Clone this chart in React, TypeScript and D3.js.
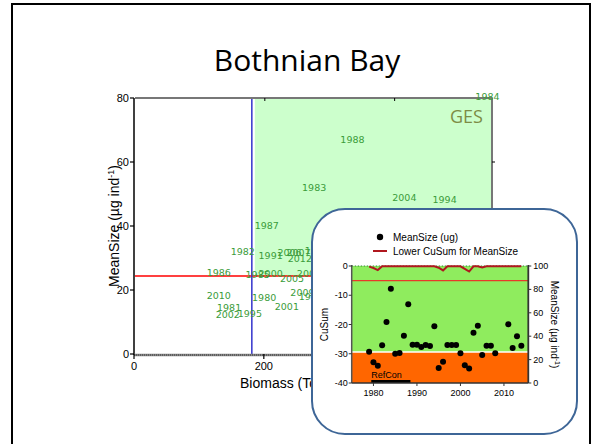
import React from "react";
import * as d3 from "d3";

// ---- Main chart data (labels placed at biomass / mean size) ----
const mainYears = ["1984", "1988", "1983", "2004", "1994", "1987", "1982", "1991", "2006", "2007", "2012", "1997", "1986", "1985", "2000", "2008", "2005", "2009", "1996", "2010", "1980", "2001", "1981", "2002", "1995"];
const mainBiomass = [543, 335, 276, 415, 477, 203, 166, 209, 238, 252, 254, 280, 129, 189, 209, 268, 242, 258, 271, 129, 199, 234, 145, 143, 177];
const mainSize = [80.6, 67.3, 52.1, 49.0, 48.4, 40.4, 32.2, 30.8, 32.0, 32.0, 29.9, 32.5, 25.6, 25.0, 25.4, 25.4, 23.9, 19.5, 18.2, 18.4, 17.7, 15.1, 14.8, 12.5, 12.8];
const mainXTicks = [0, 200, 400];
const mainYTicks = [0, 20, 40, 60, 80];
const biomassThreshold = 180;
const sizeThreshold = 24.4;

// ---- Inset data ----
const insetYears = [1979, 1980, 1981, 1982, 1983, 1984, 1985, 1986, 1987, 1988, 1989, 1990, 1991, 1992, 1993, 1994, 1995, 1996, 1997, 1998, 1999, 2000, 2001, 2002, 2003, 2004, 2005, 2006, 2007, 2008, 2011, 2012, 2013, 2014];
const insetSize = [26.8, 17.7, 14.8, 32.2, 52.1, 80.6, 25.0, 25.6, 40.4, 67.3, 32.7, 32.7, 30.8, 32.5, 31.6, 48.4, 12.8, 18.2, 32.5, 32.5, 32.5, 25.4, 15.1, 12.5, 43.0, 49.0, 23.9, 31.9, 31.9, 25.4, 50.2, 29.9, 39.9, 31.9];
const insetCusum = [-0.2, -0.7, -1.4, -0.1, -0.1, -0.1, -0.1, -0.1, -0.1, -0.1, -0.1, -0.1, -0.1, -0.1, -0.1, -0.1, -0.6, -1.5, -0.1, -0.1, -0.1, -0.1, -1.0, -1.9, -0.1, -0.1, -0.5, -0.1, -0.1, -0.1, -0.1, -0.1, -0.1, -0.1];
const insetXTicks = [1980, 1990, 2000, 2010];
const cusumTicks = [0, -10, -20, -30, -40];
const sizeTicks = [0, 20, 40, 60, 80, 100];
const cusumLimit = -5;
const insetSizeThreshold = 26.5;
const refCon = [1979.5, 1988.5];

const ARIAL = "'Liberation Sans', Arial, sans-serif";

export default function App() {
  // main scales
  const x = d3.scaleLinear().domain([0, 550]).range([135, 492]);
  const y = d3.scaleLinear().domain([0, 80]).range([354, 98]);
  // inset scales
  const ix = d3.scaleLinear().domain([1975, 2015.6]).range([351.7, 528.3]);
  const iyL = d3.scaleLinear().domain([-40, 0]).range([383, 266]);
  const iyR = d3.scaleLinear().domain([0, 100]).range([383, 266]);

  const cusumLine = d3
    .line<number>()
    .x((_, i) => ix(insetYears[i]))
    .y((d) => iyL(d))
    .curve(d3.curveLinear);

  const [x0, x1] = x.range();
  const [yb, yt] = y.range();
  const [ix0, ix1] = ix.range();

  return (
    <svg
      width={602}
      height={444}
      style={{ position: "absolute", left: 0, top: 0, background: "#fff" }}
    >
      {/* outer frame */}
      <rect x={12} y={4} width={578} height={470} fill="#fff" stroke="#000" strokeWidth={2} />
      <text x={307} y={71} textAnchor="middle" fontFamily="'Open Sans', sans-serif" fontSize={30} fill="#000">
        Bothnian Bay
      </text>

      {/* ---------- main chart ---------- */}
      <rect
        x={x(biomassThreshold) + 3}
        y={yt}
        width={x1 - x(biomassThreshold) - 3}
        height={y(sizeThreshold) - yt}
        fill="#ccffcc"
      />
      <text x={483} y={123} textAnchor="end" fontFamily="'Open Sans', sans-serif" fontSize={18} fill="#7d8c45">
        GES
      </text>
      {/* threshold lines */}
      <line x1={x0} x2={x1} y1={y(sizeThreshold)} y2={y(sizeThreshold)} stroke="#ff0000" strokeWidth={1.5} />
      <line x1={x(biomassThreshold)} x2={x(biomassThreshold)} y1={yt} y2={yb} stroke="#3333cc" strokeWidth={1.5} />

      {/* frame top / right */}
      <line x1={x0} x2={x1} y1={yt} y2={yt} stroke="#777" strokeWidth={2} />
      <line x1={x1} x2={x1} y1={yt} y2={yb} stroke="#777" strokeWidth={2} />
      {mainXTicks.slice(1).map((t) => (
        <line key={"tt" + t} x1={x(t)} x2={x(t)} y1={yt} y2={yt + 3} stroke="#000" strokeWidth={1} />
      ))}
      {mainYTicks.slice(1, 4).map((t) => (
        <line key={"rt" + t} x1={x1} x2={x1 + 3} y1={y(t)} y2={y(t)} stroke="#000" strokeWidth={1} />
      ))}

      {/* year labels */}
      {mainYears.map((yr, i) => (
        <text
          key={yr + i}
          x={x(mainBiomass[i])}
          y={y(mainSize[i]) + 4}
          textAnchor="middle"
          fontFamily="'DejaVu Sans', sans-serif"
          fontSize={9.5}
          fill="#3a9c3a"
        >
          {yr}
        </text>
      ))}

      {/* left axis */}
      <line x1={x0 - 1} x2={x0 - 1} y1={yt} y2={yb + 1} stroke="#000" strokeWidth={1.5} />
      {mainYTicks.map((t) => (
        <g key={"yl" + t}>
          <line x1={x0 - 5} x2={x0 - 1} y1={y(t)} y2={y(t)} stroke="#000" strokeWidth={1.2} />
          <text x={x0 - 6} y={y(t) + 4} textAnchor="end" fontFamily={ARIAL} fontSize={11} fill="#000">
            {t}
          </text>
        </g>
      ))}
      {/* bottom axis */}
      <line x1={x0 - 1} x2={x1} y1={yb + 1} y2={yb + 1} stroke="#888" strokeWidth={2.5} />
      <line x1={x0 - 1} x2={x1} y1={yb + 1} y2={yb + 1} stroke="#333" strokeWidth={1} strokeDasharray="1 1" />
      {mainXTicks.map((t) => (
        <g key={"xb" + t}>
          <line x1={x(t) - 1} x2={x(t) - 1} y1={yb} y2={yb + 5} stroke="#000" strokeWidth={1.2} />
          <text x={x(t) - 1} y={yb + 16} textAnchor="middle" fontFamily={ARIAL} fontSize={11} fill="#000">
            {t}
          </text>
        </g>
      ))}
      <text x={240} y={388} fontFamily={ARIAL} fontSize={14} fill="#000">
        Biomass (Tonnes km⁻²)
      </text>
      <text
        transform={`translate(119,${(yt + yb) / 2}) rotate(-90)`}
        textAnchor="middle"
        fontFamily={ARIAL}
        fontSize={14}
        fill="#000"
      >
        MeanSize (µg ind<tspan dy={-5} fontSize={9}>-1</tspan>
        <tspan dy={5}>)</tspan>
      </text>

      {/* ---------- inset ---------- */}
      <rect x={312} y={209} width={265} height={225} rx={33} ry={33} fill="#fff" stroke="#3e6697" strokeWidth={2} />

      {/* legend */}
      <circle cx={380} cy={237} r={3.2} fill="#000" />
      <text x={393} y={240.5} fontFamily={ARIAL} fontSize={10} fill="#000">
        MeanSize (ug)
      </text>
      <line x1={373} x2={387} y1={251} y2={251} stroke="#b0171f" strokeWidth={2} />
      <text x={393} y={254.5} fontFamily={ARIAL} fontSize={10} fill="#000">
        Lower CuSum for MeanSize
      </text>

      {/* backgrounds */}
      <rect x={ix0} y={iyL(0)} width={ix1 - ix0} height={iyR(insetSizeThreshold) - iyL(0)} fill="#8fec5e" />
      <rect x={ix0} y={iyR(insetSizeThreshold)} width={ix1 - ix0} height={iyR(0) - iyR(insetSizeThreshold)} fill="#ff6600" />
      <line x1={ix0} x2={ix1} y1={iyR(insetSizeThreshold)} y2={iyR(insetSizeThreshold)} stroke="#fff" strokeWidth={1.5} />
      <line x1={ix0} x2={ix1} y1={iyL(0)} y2={iyL(0)} stroke="#2f8a2f" strokeWidth={1} strokeDasharray="1.5 1.5" />
      <line x1={ix0} x2={ix1} y1={iyL(cusumLimit)} y2={iyL(cusumLimit)} stroke="#e8392a" strokeWidth={1.3} />

      {/* cusum */}
      <path d={cusumLine(insetCusum) || ""} fill="none" stroke="#b0171f" strokeWidth={2} />

      {/* points */}
      {insetYears.map((yr, i) => (
        <circle key={"p" + yr} cx={ix(yr)} cy={iyR(insetSize[i])} r={3} fill="#000" />
      ))}

      {/* RefCon */}
      <line x1={ix(refCon[0])} x2={ix(refCon[1])} y1={381.5} y2={381.5} stroke="#000" strokeWidth={3} />
      <text x={ix(refCon[0])} y={378} fontFamily={ARIAL} fontSize={9} fill="#000">
        RefCon
      </text>

      {/* inset axes */}
      <line x1={ix0} x2={ix0} y1={iyL(0) - 1} y2={iyL(-40)} stroke="#555" strokeWidth={1.5} />
      {cusumTicks.map((t) => (
        <g key={"cl" + t}>
          <line x1={ix0 - 3} x2={ix0} y1={iyL(t)} y2={iyL(t)} stroke="#333" strokeWidth={1} />
          <text x={ix0 - 4} y={iyL(t) + 3} textAnchor="end" fontFamily={ARIAL} fontSize={9} fill="#000">
            {t}
          </text>
        </g>
      ))}
      <line x1={ix1} x2={ix1} y1={iyR(100) - 1} y2={iyR(0)} stroke="#333" strokeWidth={1.8} />
      {sizeTicks.map((t) => (
        <g key={"sr" + t}>
          <line x1={ix1} x2={ix1 + 3} y1={iyR(t)} y2={iyR(t)} stroke="#333" strokeWidth={1} />
          <text x={ix1 + 5} y={iyR(t) + 3} fontFamily={ARIAL} fontSize={9} fill="#000">
            {t}
          </text>
        </g>
      ))}
      <line x1={ix0} x2={ix1} y1={iyL(-40)} y2={iyL(-40)} stroke="#333" strokeWidth={1.5} />
      {insetXTicks.map((t) => (
        <g key={"ib" + t}>
          <line x1={ix(t)} x2={ix(t)} y1={iyL(-40)} y2={iyL(-40) + 3} stroke="#333" strokeWidth={1} />
          <text x={ix(t)} y={iyL(-40) + 13} textAnchor="middle" fontFamily={ARIAL} fontSize={9} fill="#000">
            {t}
          </text>
        </g>
      ))}
      <text
        transform={`translate(328,${(iyL(0) + iyL(-40)) / 2}) rotate(-90)`}
        textAnchor="middle"
        fontFamily={ARIAL}
        fontSize={10}
        fill="#000"
      >
        CuSum
      </text>
      <text
        transform={`translate(551,${(iyR(0) + iyR(100)) / 2}) rotate(90)`}
        textAnchor="middle"
        fontFamily={ARIAL}
        fontSize={10}
        fill="#000"
      >
        MeanSize (µg ind<tspan dy={-4} fontSize={7}>-1</tspan>
        <tspan dy={4}>)</tspan>
      </text>
    </svg>
  );
}
